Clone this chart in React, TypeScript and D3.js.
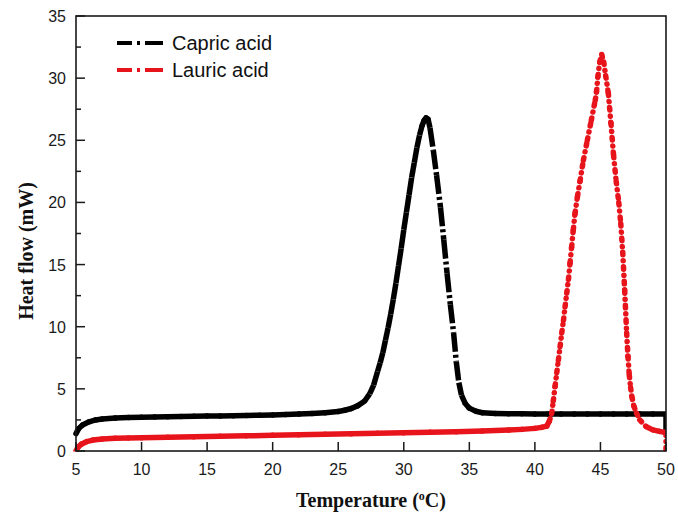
import React from "react";
import * as d3 from "d3";

// ---- data ----
const capricT = [5.0, 5.2, 5.5, 6.0, 6.5, 7.0, 8.0, 9.0, 10, 11, 12, 13, 14, 15, 16, 17, 18, 19, 20, 21, 22, 23, 24, 25, 25.5, 26.0, 26.5, 27.0, 27.4, 27.7, 28.0, 28.2, 28.4, 28.6, 28.8, 29.0, 29.2, 29.4, 29.6, 29.8, 30.0, 30.2, 30.4, 30.6, 30.8, 31.0, 31.2, 31.4, 31.55, 31.7, 31.85, 32.0, 32.25, 32.5, 32.8, 33.05, 33.3, 33.55, 33.8, 34.0, 34.2, 34.4, 34.7, 35.0, 35.5, 36, 37, 38, 39, 40, 41, 42, 43, 44, 45, 46, 47, 48, 49, 50, 50];
const capricHF = [1.4, 1.8, 2.1, 2.35, 2.5, 2.58, 2.65, 2.7, 2.72, 2.74, 2.76, 2.78, 2.8, 2.81, 2.82, 2.84, 2.86, 2.88, 2.9, 2.93, 2.97, 3.02, 3.08, 3.18, 3.28, 3.42, 3.65, 4.0, 4.6, 5.3, 6.4, 7.1, 7.9, 8.9, 9.9, 11.0, 12.2, 13.5, 14.9, 16.3, 17.8, 19.2, 20.6, 22.0, 23.2, 24.4, 25.4, 26.2, 26.6, 26.8, 26.7, 26.0, 24.2, 22.2, 19.6, 17.0, 14.3, 11.8, 9.5, 7.2, 5.5, 4.5, 3.8, 3.45, 3.2, 3.08, 3.02, 3.0, 2.99, 2.98, 2.98, 2.98, 2.98, 2.98, 2.98, 2.98, 2.98, 2.98, 2.98, 2.98, 1.6];

const lauricT = [5.0, 5.15, 5.4, 5.8, 6.3, 7.0, 8.0, 9, 10, 12, 14, 16, 18, 20, 22, 24, 26, 28, 30, 32, 34, 36, 38, 39, 40.0, 40.5, 40.9, 41.1, 41.28, 41.4, 41.54, 41.67, 41.79, 41.92, 42.05, 42.18, 42.3, 42.43, 42.56, 42.68, 42.8, 42.93, 43.06, 43.25, 43.44, 43.7, 44.0, 44.3, 44.6, 44.7, 44.8, 44.95, 45.1, 45.25, 45.4, 45.6, 45.8, 46.0, 46.2, 46.4, 46.55, 46.7, 46.85, 47.0, 47.1, 47.2, 47.3, 47.4, 47.55, 47.75, 48.0, 48.5, 49.0, 49.5, 49.9, 50, 50];
const lauricHF = [0.0, 0.3, 0.55, 0.75, 0.88, 0.97, 1.02, 1.05, 1.07, 1.1, 1.14, 1.18, 1.22, 1.26, 1.3, 1.34, 1.38, 1.42, 1.46, 1.5, 1.55, 1.6, 1.68, 1.74, 1.82, 1.9, 2.0, 2.4, 3.0, 4.0, 5.2, 6.3, 7.3, 8.4, 9.5, 10.5, 11.6, 12.7, 13.8, 15.1, 16.4, 17.8, 19.1, 20.5, 21.7, 23.4, 25.0, 26.6, 28.2, 28.9, 30.1, 31.3, 31.9, 31.3, 30.2, 28.8, 26.4, 23.8, 21.7, 20.0, 18.3, 16.0, 12.9, 9.5, 7.6, 6.1, 5.1, 4.35, 3.6, 3.05, 2.5, 1.95, 1.7, 1.58, 1.5, 1.45, 0.0];

const xTicks = [5, 10, 15, 20, 25, 30, 35, 40, 45, 50];
const yTicks = [0, 5, 10, 15, 20, 25, 30, 35];
const yMinorTicks = [2.5, 7.5, 12.5, 17.5, 22.5, 27.5, 32.5];

const seriesNames = ["Capric acid", "Lauric acid"];
const seriesColors = ["#000000", "#e8141c"];

const W = 678;
const H = 516;
const left = 76, right = 666, top = 16, bottom = 451;

const x = d3.scaleLinear().domain([5, 50]).range([left, right]);
const y = d3.scaleLinear().domain([0, 35]).range([bottom, top]);

type Style = { color: string; width: number; cap: "butt" | "round"; dash: string };

function Series({ xs, ys, st, clip }: { xs: number[]; ys: number[]; st: Style; clip: string }) {
  const segs: React.ReactNode[] = [];
  for (let i = 0; i < xs.length - 1; i++) {
    const x1 = x(xs[i]), y1 = y(ys[i]), x2 = x(xs[i + 1]), y2 = y(ys[i + 1]);
    const steep = Math.abs(y2 - y1) > 6;
    segs.push(
      <line key={i} x1={x1} y1={y1} x2={x2} y2={y2} stroke={st.color} strokeWidth={st.width}
        strokeLinecap={steep ? st.cap : "round"} strokeDasharray={steep ? st.dash : undefined} />
    );
  }
  return <g clipPath={clip}>{segs}</g>;
}

export default function App() {
  const blackSt: Style = { color: seriesColors[0], width: 5.5, cap: "butt", dash: "19,3,3,3" };
  const redSt: Style = { color: seriesColors[1], width: 5.5, cap: "round", dash: "2.5,6,0.1,6" };
  const tickFont = "'Liberation Sans', Arial, sans-serif";
  const titleFont = "'Liberation Serif', 'Times New Roman', serif";
  return (
    <svg width={W} height={H} style={{ position: "absolute", left: 0, top: 0, background: "#fff" }}>
      <defs>
        <clipPath id="plotclip">
          <rect x={left - 4} y={top} width={right - left + 4} height={bottom - top + 0.5} />
        </clipPath>
      </defs>
      <rect x={0} y={0} width={W} height={H} fill="#fff" />
      {/* series */}
      <Series xs={capricT} ys={capricHF} st={blackSt} clip="url(#plotclip)" />
      <Series xs={lauricT} ys={lauricHF} st={redSt} clip="url(#plotclip)" />
      {/* frame */}
      <rect x={left} y={top} width={right - left} height={bottom - top} fill="none" stroke="#1a1a1a" strokeWidth={1.6} />
      {/* x ticks */}
      {xTicks.map((t) => (
        <g key={"x" + t}>
          <line x1={x(t)} x2={x(t)} y1={bottom} y2={bottom - 9} stroke="#1a1a1a" strokeWidth={1.5} />
          <text x={x(t)} y={475} textAnchor="middle" fontFamily={tickFont} fontSize={16} fill="#1a1a1a">{t}</text>
        </g>
      ))}
      {/* y ticks */}
      {yTicks.map((t) => (
        <g key={"y" + t}>
          <line x1={left} x2={left + 9} y1={y(t)} y2={y(t)} stroke="#1a1a1a" strokeWidth={1.5} />
          <text x={66} y={y(t) + 6} textAnchor="end" fontFamily={tickFont} fontSize={16} fill="#1a1a1a">{t}</text>
        </g>
      ))}
      {yMinorTicks.map((t) => (
        <line key={"ym" + t} x1={left} x2={left + 5} y1={y(t)} y2={y(t)} stroke="#1a1a1a" strokeWidth={1.5} />
      ))}
      {/* axis titles */}
      <text x={(left + right) / 2} y={507} textAnchor="middle" fontFamily={titleFont} fontWeight="bold" fontSize={20} fill="#111">
        Temperature (<tspan baselineShift="super" fontSize={12}>o</tspan>C)
      </text>
      <text transform={`translate(33, ${251}) rotate(-90)`} textAnchor="middle" fontFamily={titleFont} fontWeight="bold" fontSize={20} fill="#111">
        Heat flow (mW)
      </text>
      {/* legend */}
      {seriesNames.map((n, i) => {
        const ly = 43 + i * 27;
        return (
          <g key={n}>
            <line x1={117} x2={163} y1={ly} y2={ly} stroke={seriesColors[i]} strokeWidth={4} strokeDasharray="15,5,3,5,18" />
            <text x={172} y={ly + 7} fontFamily={tickFont} fontSize={20} fill="#111">{n}</text>
          </g>
        );
      })}
    </svg>
  );
}
